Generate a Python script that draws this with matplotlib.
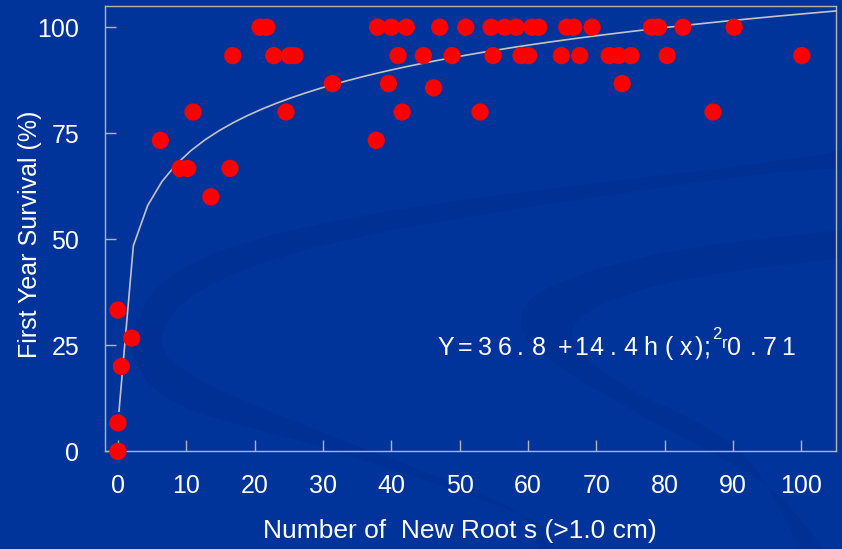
import numpy as np
import matplotlib.pyplot as plt
from matplotlib.path import Path
from matplotlib.patches import PathPatch

# data
roots_0 = [0, 0, 0.5, 0, 2.0]
surv_0 = [0, 6.7, 20, 33.3, 26.7]
roots_60 = [13.6]
roots_67 = [9.1, 10.2, 16.4]
roots_73 = [6.2, 37.8]
roots_80 = [11.0, 24.6, 41.6, 53.0, 87.1]
roots_87 = [31.4, 39.6, 46.2, 73.8]
surv_87 = [86.7, 86.7, 85.7, 86.7]
roots_93 = [16.8, 22.8, 25.1, 25.9, 41.0, 44.7, 48.9, 54.9, 59.0, 60.1,
            64.9, 67.6, 71.9, 73.3, 75.1, 80.4, 100.1]
roots_100 = [20.8, 21.8, 38.0, 40.0, 42.2, 47.1, 50.9, 54.6, 56.6, 58.3,
             60.6, 61.6, 65.7, 66.7, 69.4, 78.1, 79.1, 82.7, 90.2]

# fitted curve given on the chart: Y = 36.8 + 14.4 ln(x)
fit_a = 36.8
fit_b = 14.4

xticks = list(range(0, 101, 10))
yticks = [0, 25, 50, 75, 100]

# equation as it appears, one glyph at a time (wide letter spacing in the original)
eq_chars = list('Y=36.8+14.4h(x);') + ['0', '.', '7', '1']
eq_px = [446, 465, 485, 504.5, 520, 538.5, 565, 581, 596, 613, 630, 650, 668.5,
         685.5, 699, 707.5, 734, 753, 770, 788]

x = roots_0 + roots_60 + roots_67 + roots_73 + roots_80 + roots_87 + roots_93 + roots_100
y = (surv_0 + [60] * len(roots_60) + [66.7] * len(roots_67) + [73.3] * len(roots_73)
     + [80] * len(roots_80) + surv_87 + [93.3] * len(roots_93) + [100] * len(roots_100))

bg = '#00349a'
band = '#003093'

fig = plt.figure(figsize=(8.42, 5.49), dpi=100, facecolor=bg)


def smooth(pts, n=20):
    # catmull-rom through the given outline points
    pts = np.array(pts, dtype=float)
    p = np.vstack([pts[0], pts, pts[-1]])
    out = []
    for i in range(1, len(p) - 2):
        p0, p1, p2, p3 = p[i - 1], p[i], p[i + 1], p[i + 2]
        for t in np.linspace(0, 1, n, endpoint=False):
            t2, t3 = t * t, t * t * t
            out.append(0.5 * ((2 * p1) + (-p0 + p2) * t + (2 * p0 - 5 * p1 + 4 * p2 - p3) * t2
                              + (-p0 + 3 * p1 - 3 * p2 + p3) * t3))
    out.append(p[-2])
    return np.array(out)


# background swooshes (pixel coords)
bgax = fig.add_axes([0, 0, 1, 1], zorder=-1)
bgax.set_xlim(0, 842)
bgax.set_ylim(549, 0)
bgax.axis('off')

outer_a = [(842, 150), (762, 163), (384, 212), (195, 262), (133, 333), (171, 400),
           (337, 452), (526, 517), (555, 549)]
inner_a = [(842, 168), (715, 180), (384, 232), (220, 280), (163, 333), (195, 377),
           (337, 438), (505, 505), (540, 549)]
outer_b = [(842, 230), (668, 252), (550, 287), (521, 322), (550, 360), (644, 417),
           (763, 483), (824, 549)]
inner_b = [(842, 258), (692, 278), (597, 307), (573, 340), (620, 383), (739, 450),
           (800, 549)]
for o, i in [(outer_a, inner_a), (outer_b, inner_b)]:
    poly = np.vstack([smooth(o), smooth(i)[::-1]])
    bgax.add_patch(PathPatch(Path(np.vstack([poly, poly[:1]]), closed=True),
                             facecolor=band, edgecolor='none'))

ax = fig.add_axes([105 / 842, 1 - 451.3 / 549, 731 / 842, 445.3 / 549])
ax.set_facecolor('none')
ax.set_xlim(-1.9, 105.1)
ax.set_ylim(0, 105)

xs = np.linspace(0.15, 105.1, 51)
ax.plot(xs, fit_a + fit_b * np.log(xs), color='#c4c4c4', lw=1.2, zorder=3, clip_on=False)
ax.scatter(x, y, s=155, color='#ff0000', edgecolors='none', zorder=4, clip_on=False)

for s in ax.spines.values():
    s.set_color('#b4b4b4')
    s.set_linewidth(1.0)

ax.set_xticks(xticks)
ax.set_yticks(yticks)
ax.tick_params(direction='in', length=8, width=1, color='#b4b4b4', labelcolor='white')
ax.tick_params(axis='x', pad=16)
ax.tick_params(axis='y', pad=18.5)
for lab in ax.get_xticklabels() + ax.get_yticklabels():
    lab.set_fontfamily('Liberation Sans')
    lab.set_fontsize(18)

fig.text(30 / 842, 1 - 234 / 549, 'First Year Survival (%)', rotation=90, ha='center',
         va='center', color='white', fontsize=18, family='Liberation Sans')
fig.text(460 / 842, 1 - 531 / 549, 'Number of  New Root s (>1.0 cm)', ha='center',
         va='center', color='white', fontsize=19, family='Liberation Sans')

# equation text, kept as it appears in the original
base = 1 - 355 / 549
for ch, px in zip(eq_chars, eq_px):
    fig.text(px / 842, base, ch, color='white', fontsize=18, family='Liberation Sans',
             ha='center', va='baseline')
fig.text(716.5 / 842, 1 - 339 / 549, '2', color='white', fontsize=12,
         family='Liberation Sans', ha='center', va='baseline')
fig.text(725 / 842, 1 - 348 / 549, 'r', color='white', fontsize=12,
         family='Liberation Sans', ha='center', va='baseline')

fig.savefig('out.png', dpi=100, facecolor=bg)
